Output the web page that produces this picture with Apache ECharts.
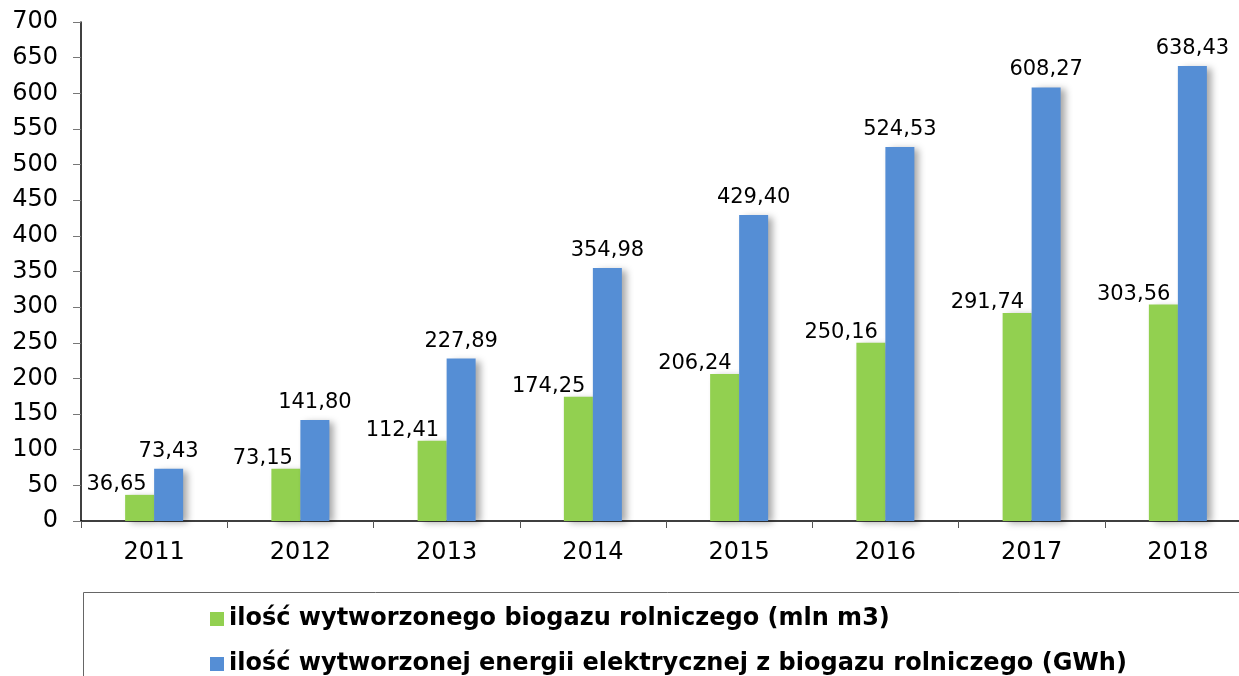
<!DOCTYPE html>
<html>
<head>
<meta charset="utf-8">
<script src="https://cdn.jsdelivr.net/npm/echarts@6/dist/echarts.min.js"></script>
<style>
  html, body { margin: 0; padding: 0; background: #fff; overflow: hidden; }
  /* the plot area runs a little past the right edge of the window */
  #chart { width: 1251px; height: 676px; }
</style>
</head>
<body>
<div id="chart"></div>
<script>
// Agricultural biogas production and electricity generated from it, 2011–2018
const years = ['2011', '2012', '2013', '2014', '2015', '2016', '2017', '2018'];
const biogasVolume = [36.65, 73.15, 112.41, 174.25, 206.24, 250.16, 291.74, 303.56];
const electricityGWh = [73.43, 141.80, 227.89, 354.98, 429.40, 524.53, 608.27, 638.43];
const seriesNames = [
  'ilość wytworzonego biogazu rolniczego (mln m3)',
  'ilość wytworzonej energii elektrycznej z biogazu rolniczego (GWh)'
];

const FONT = '"DejaVu Sans", Verdana, sans-serif';
const fmt = v => v.toFixed(2).replace('.', ',');

const chart = echarts.init(document.getElementById('chart'), null, { renderer: 'canvas' });

const barShadow = {
  shadowColor: 'rgba(0,0,0,0.35)',
  shadowBlur: 7,
  shadowOffsetX: 5,
  shadowOffsetY: 2
};

// one legend block per series, stacked vertically
const legendBlock = (name, top) => ({
  orient: 'vertical',
  left: 205,
  top: top,
  itemWidth: 14,
  itemHeight: 14,
  icon: 'rect',
  selectedMode: false,
  textStyle: {
    color: '#000', fontFamily: FONT, fontSize: 24, fontWeight: 'bold',
    lineHeight: 26, padding: [0, 0, 0, 0]
  },
  data: [name]
});

chart.setOption({
  animation: false,
  backgroundColor: '#ffffff',
  grid: { left: 81, right: 0, top: 22, bottom: 155, containLabel: false },
  xAxis: {
    type: 'category',
    data: years,
    axisLine: { lineStyle: { color: '#000', width: 1.5 } },
    axisTick: { show: true, length: 7, lineStyle: { color: '#555' } },
    axisLabel: { color: '#000', fontFamily: FONT, fontSize: 24, margin: 20 }
  },
  yAxis: {
    type: 'value',
    min: 0,
    max: 700,
    interval: 50,
    splitLine: { show: false },
    axisLine: { show: true, lineStyle: { color: '#000', width: 1.5 } },
    axisTick: { show: true, length: 8, lineStyle: { color: '#777' } },
    axisLabel: { color: '#000', fontFamily: FONT, fontSize: 24, margin: 23 }
  },
  legend: [
    legendBlock(seriesNames[0], 601),
    legendBlock(seriesNames[1], 646)
  ],
  graphic: [{
    type: 'rect',
    silent: true,
    shape: { x: 83.5, y: 592.5, width: 1200, height: 200 },
    style: { fill: 'none', stroke: '#666', lineWidth: 1 }
  }],
  series: [
    {
      name: seriesNames[0],
      type: 'bar',
      data: biogasVolume,
      barWidth: 29,
      barGap: '0%',
      itemStyle: Object.assign({ color: '#92D050' }, barShadow),
      label: {
        show: true,
        position: 'top',
        align: 'right',
        distance: 0,
        offset: [7, 0],
        color: '#000',
        fontFamily: FONT,
        fontSize: 21,
        formatter: p => fmt(p.value)
      }
    },
    {
      name: seriesNames[1],
      type: 'bar',
      data: electricityGWh,
      barWidth: 29,
      itemStyle: Object.assign({ color: '#558ED5' }, barShadow),
      label: {
        show: true,
        position: 'top',
        distance: 7,
        color: '#000',
        fontFamily: FONT,
        fontSize: 21,
        formatter: p => fmt(p.value)
      }
    }
  ]
});
</script>
</body>
</html>
